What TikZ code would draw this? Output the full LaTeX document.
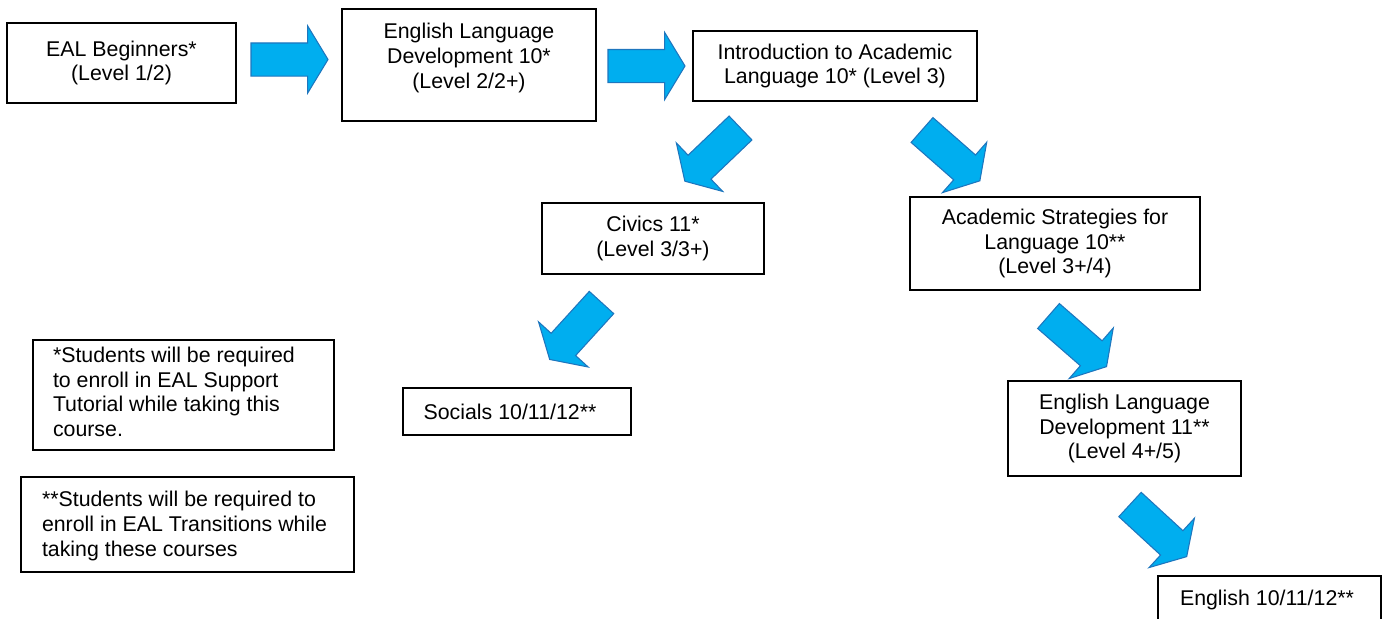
\documentclass[tikz,border=0pt]{standalone}
\usepackage{fontspec}
\setmainfont{Liberation Sans}
\usetikzlibrary{shapes.arrows,fit}
\definecolor{arrfill}{RGB}{0,174,239}
\definecolor{arrline}{RGB}{30,118,190}
\newcommand\fsz{\fontsize{16pt}{18.4pt}\selectfont}
\tikzset{
  box/.style={draw=black, line width=1.5pt, inner sep=0pt, outer sep=0pt},
  txt/.style={inner sep=0pt, outer sep=0pt, font=\fsz},
  blockarrow/.style={single arrow, fill=arrfill, draw=arrline, line width=0.8pt,
    minimum height=57.75pt, minimum width=49.5pt, single arrow head extend=12.75pt,
    single arrow tip angle=117.6, inner xsep=0pt, inner ysep=12pt, outer sep=0pt, anchor=tail}
}
\begin{document}
\begin{tikzpicture}[x=0.75pt,y=-0.75pt]
\useasboundingbox (0,0) rectangle (1383,618);
\clip (0,0) rectangle (1383,618);
% course boxes
\node[box, fit={(7,23) (236,103)}] (b1) {};
\node[txt, align=center] (b1t) at (b1.center) {EAL Beginners*\\(Level 1/2)};
\node[box, fit={(342,9) (596,121)}] (b2) {};
\node[txt, align=center] (b2t) at (469,58) {English Language\\Development 10*\\(Level 2/2+)};
\node[box, fit={(693,31) (977,101)}] (b3) {};
\node[txt, align=center] (b3t) at (b3.center) {Introduction to Academic\\Language 10* (Level 3)};
\node[box, fit={(542,203) (764,274)}] (b4) {};
\node[txt, align=center] (b4t) at (b4.center) {Civics 11*\\(Level 3/3+)};
\node[box, fit={(910,197) (1200,290)}] (b5) {};
\node[txt, align=center] (b5t) at (b5.center) {Academic Strategies for\\Language 10**\\(Level 3+/4)};
\node[box, fit={(1008,381) (1241,476)}] (b6) {};
\node[txt, align=center] (b6t) at (b6.center) {English Language\\Development 11**\\(Level 4+/5)};
\node[box, fit={(403,388) (631,435)}] (b7) {};
\node[txt] (b7t) at (510,412) {Socials 10/11/12**};
\node[box, fit={(1158,576) (1381,624)}] (b8) {};
\node[txt] (b8t) at (1267,600) {English 10/11/12**};
% notes
\node[box, fit={(33,340) (334,450)}] (n1) {};
\node[txt, align=left, anchor=west] (n1t) at (53,392) {*Students will be required\\to enroll in EAL Support\\Tutorial while taking this\\course.};
\node[box, fit={(21,477) (354,572)}] (n2) {};
\node[txt, align=left, anchor=west] (n2t) at (42,526) {**Students will be required to\\enroll in EAL Transitions while\\taking these courses};
% block arrows
\node[blockarrow, rotate=0] (a1) at (251,59.5) {};
\node[blockarrow, rotate=0] (a2) at (608,66) {};
\node[blockarrow, rotate=223.7] (a3) at (740.5,128) {};
\node[blockarrow, rotate=-41.3] (a4) at (922,130) {};
\node[blockarrow, rotate=-41.1] (a5) at (1048.5,316) {};
\node[blockarrow, rotate=-42.6] (a6) at (1130,504.5) {};
\node[blockarrow, rotate=-132.3] (a7) at (601.5,302.5) {};
\end{tikzpicture}
\end{document}
